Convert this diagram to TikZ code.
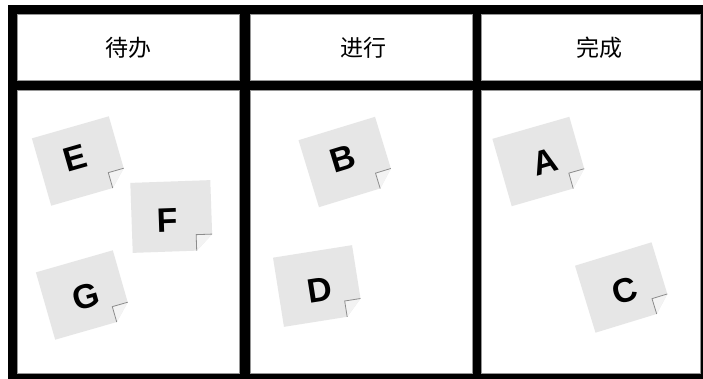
\documentclass[tikz,border=0pt]{standalone}
\usepackage{fontspec}
\setmainfont{Liberation Sans}
\newfontfamily\cjk{Noto Sans CJK SC}
\definecolor{notegray}{RGB}{230,230,230}
\definecolor{flapgray}{RGB}{243,243,243}
\definecolor{edgegray}{RGB}{150,150,150}
\definecolor{foldgray}{RGB}{140,140,140}
\tikzset{
  box/.style={fill=white, draw=edgegray, line width=0.7pt},
  headtext/.style={inner sep=0pt, font=\cjk\fontsize{23}{27}\selectfont},
  letterstyle/.style={inner sep=0pt, font=\bfseries\fontsize{34}{38}\selectfont},
  foldline/.style={draw=foldgray, line width=0.8pt},
}
\newcommand\stickynote[7]{%
  \begin{scope}[shift={(#2,#3)},rotate=#4]
    \fill[notegray] (-40,-35) -- (40,-35) -- (40,19) -- (24,35) -- (-40,35) -- cycle;
    \fill[flapgray] (24,19) -- (40,19) -- (24,35) -- cycle;
    \draw[foldline] (40,19) -- (24,19) -- (24,35);
  \end{scope}
  \node[letterstyle, rotate=#4] (#1) at (#6,#7) {#5};}
\begin{document}
\begin{tikzpicture}[x=1pt,y=-1pt]
  \useasboundingbox (0,0) rectangle (703,379);
  \fill[white] (0,0) rectangle (703,379);
  \fill[black] (8,5) rectangle (703,379);
  % headers
  \path[box] (17,14) rectangle (239.5,80);
  \path[box] (250,14) rectangle (472.5,80);
  \path[box] (481,14) rectangle (700,80);
  % bodies
  \path[box] (17,90.5) rectangle (239.5,373);
  \path[box] (250,90.5) rectangle (472.5,373);
  \path[box] (481,90.5) rectangle (700,373);
  \node[headtext] (todo) at (128,48) {待办};
  \node[headtext] (doing) at (363,48) {进行};
  \node[headtext] (done) at (599,48) {完成};
  % notes
  \stickynote{E}{80}{161}{16}{E}{75.5}{158}
  \stickynote{F}{171.5}{216.5}{2}{F}{167}{220}
  \stickynote{G}{84}{295}{16}{G}{86}{297}
  \stickynote{B}{347}{162}{17}{B}{343}{159}
  \stickynote{D}{318}{286}{9}{D}{319.5}{290.5}
  \stickynote{A}{540.5}{161.5}{16}{A}{545}{162}
  \stickynote{C}{623.5}{287.5}{17}{C}{625}{290.5}
\end{tikzpicture}
\end{document}
